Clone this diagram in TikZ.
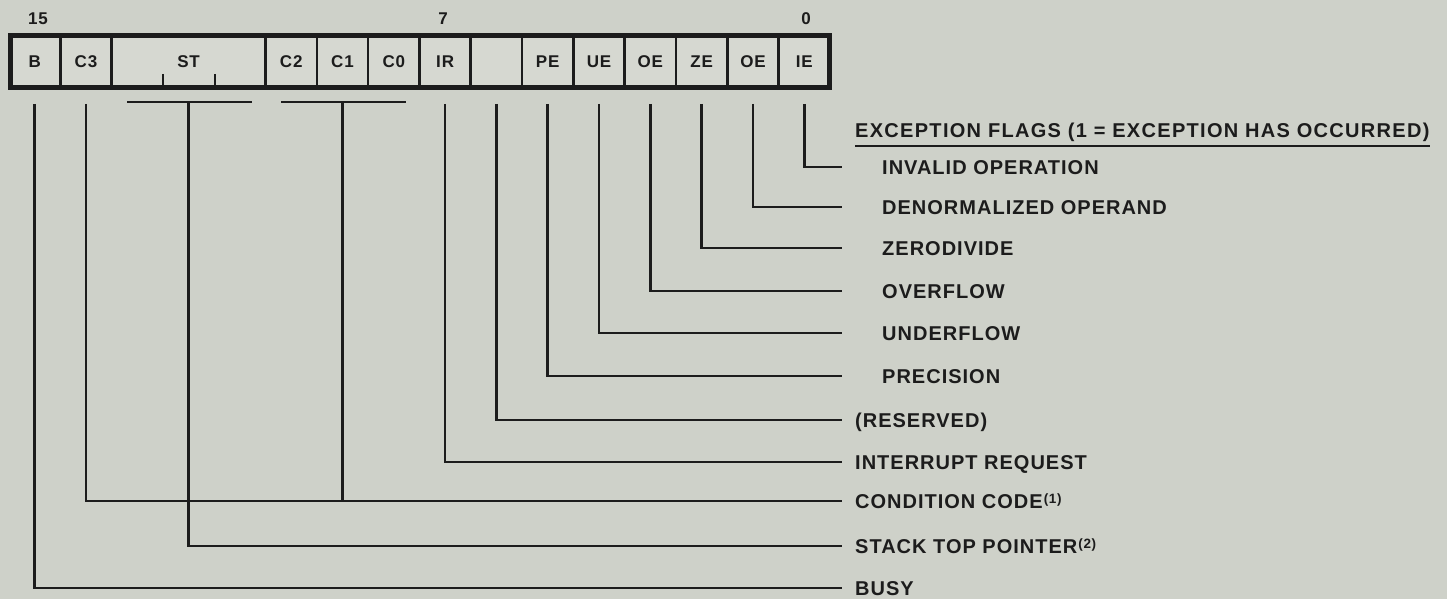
\documentclass[tikz,border=0pt]{standalone}
\usepackage{fontspec}
\newfontfamily\lab{Liberation Sans}[LetterSpace=5]
\newfontfamily\hdrfont{Liberation Sans}[LetterSpace=6.5]
\definecolor{bg}{RGB}{206,209,201}
\definecolor{cellbg}{RGB}{214,216,209}
\definecolor{ink}{RGB}{28,28,28}
\tikzset{
  cell/.style={draw=ink, fill=cellbg, line width=2.6pt, minimum width=51.31pt, minimum height=50pt,
    inner sep=0pt, text=ink, font=\lab\bfseries\fontsize{17}{17}\selectfont},
  bitno/.style={inner sep=0pt, text=ink, font=\lab\bfseries\fontsize{17}{17}\selectfont},
  lbl/.style={anchor=west, inner sep=0pt, text height=14.5pt, text depth=0pt, text=ink,
    font=\lab\bfseries\fontsize{20}{20}\selectfont},
  wire/.style={draw=ink, line width=2.6pt},
  frame/.style={draw=ink, line width=5pt}
}
\newcommand{\supnote}[1]{\hspace{1pt}\raisebox{5pt}{\fontsize{13.5}{13.5}\selectfont(#1)}}
\begin{document}
\begin{tikzpicture}[x=1pt,y=-1pt]
\fill[bg] (0,0) rectangle (1447,599);
\useasboundingbox (0,0) rectangle (1447,599);
% cells
\node[cell] (cB)  at (34.65,62) {B};
\node[cell] (cC3) at (85.96,62) {C3};
\node[cell, minimum width=153.93pt] (cST) at (188.58,62) {};
\node[bitno] (tST) at (188.58,62) {ST};
\node[cell] (cC2) at (291.19,62) {C2};
\node[cell] (cC1) at (342.50,62) {C1};
\node[cell] (cC0) at (393.81,62) {C0};
\node[cell] (cIR) at (445.12,62) {IR};
\node[cell] (cRS) at (496.43,62) {};
\node[cell] (cPE) at (547.74,62) {PE};
\node[cell] (cUE) at (599.05,62) {UE};
\node[cell] (cOE) at (650.36,62) {OE};
\node[cell] (cZE) at (701.67,62) {ZE};
\node[cell] (cDE) at (752.98,62) {OE};
\node[cell] (cIE) at (804.29,62) {IE};
% frame
\node[frame, minimum width=819pt, minimum height=52pt, inner sep=0pt] (reg) at (419.5,61.5) {};
% ST ticks
\draw[wire] (163,74) -- (163,87);
\draw[wire] (215,74) -- (215,87);
% bit numbers
\node[bitno] (n15) at (38,19) {15};
\node[bitno] (n7)  at (443,19) {7};
\node[bitno] (n0)  at (806,19) {0};
% brackets
\coordinate (top) at (0,104);
\coordinate (brk) at (0,102);
\draw[wire] (127,102) coordinate (stl) -- (252,102) coordinate (str);
\draw[wire] (281,102) coordinate (ccl) -- (406,102) coordinate (ccr);
% labels
\node[lbl, font=\hdrfont\bfseries\fontsize{20}{20}\selectfont] (hdr) at (855,130) {EXCEPTION FLAGS (1 = EXCEPTION HAS OCCURRED)};
\draw[wire, line width=2.2pt] ([yshift=-9pt]hdr.base west) -- ([yshift=-9pt]hdr.base east);
\node[lbl] (lIE) at (882,167) {INVALID OPERATION};
\node[lbl] (lDE) at (882,207) {DENORMALIZED OPERAND};
\node[lbl] (lZE) at (882,248) {ZERODIVIDE};
\node[lbl] (lOE) at (882,291) {OVERFLOW};
\node[lbl] (lUE) at (882,333) {UNDERFLOW};
\node[lbl] (lPE) at (882,376) {PRECISION};
\node[lbl] (lRS) at (855,420) {(RESERVED)};
\node[lbl] (lIR) at (855,462) {INTERRUPT REQUEST};
\node[lbl] (lCC) at (855,501) {CONDITION CODE\supnote{1}};
\node[lbl] (lST) at (855,546) {STACK TOP POINTER\supnote{2}};
\node[lbl] (lB)  at (855,588) {BUSY};
% connectors
\draw[wire] (cIE.south |- top) |- ([xshift=-40pt]lIE.west);
\draw[wire] (cDE.south |- top) |- ([xshift=-40pt]lDE.west);
\draw[wire] (cZE.south |- top) |- ([xshift=-40pt]lZE.west);
\draw[wire] (cOE.south |- top) |- ([xshift=-40pt]lOE.west);
\draw[wire] (cUE.south |- top) |- ([xshift=-40pt]lUE.west);
\draw[wire] (cPE.south |- top) |- ([xshift=-40pt]lPE.west);
\draw[wire] (cRS.south |- top) |- ([xshift=-13pt]lRS.west);
\draw[wire] (cIR.south |- top) |- ([xshift=-13pt]lIR.west);
\draw[wire] (cC1.south |- brk) |- ([xshift=-13pt]lCC.west);
\draw[wire] (cC3.south |- top) |- ([xshift=-13pt]lCC.west);
\draw[wire] (cST.south |- brk) |- ([xshift=-13pt]lST.west);
\draw[wire] (cB.south |- top) |- ([xshift=-13pt]lB.west);
\end{tikzpicture}
\end{document}
